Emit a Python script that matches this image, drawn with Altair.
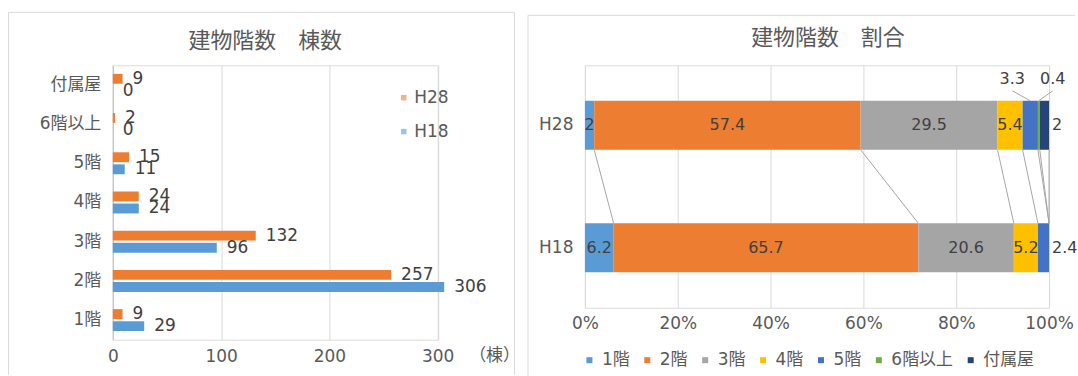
import altair as alt
import pandas as pd

# ---------------- data ----------------
floors = ["1階", "2階", "3階", "4階", "5階", "6階以上", "付属屋"]
years = ["H28", "H18"]
count_h28 = [9, 257, 132, 24, 15, 2, 9]
count_h18 = [29, 306, 96, 24, 11, 0, 0]
pct_h28 = [2.0, 57.4, 29.5, 5.4, 3.3, 0.4, 2.0]
pct_h18 = [6.2, 65.7, 20.6, 5.2, 2.4, 0.0, 0.0]
count_ticks = [0, 100, 200, 300]
pct_ticks = [0, 20, 40, 60, 80, 100]
title_left = "建物階数　棟数"
title_right = "建物階数　割合"

# label placement on the 100% chart (style, not data)
place_h28 = ["in", "in", "in", "in", "above", "above", "right"]
place_h18 = ["in", "in", "in", "in", "right", "none", "none"]
above_dx = {"5階": -18, "6階以上": 14}

year_colors = ["#ED7D31", "#5B9BD5"]
floor_colors = ["#5B9BD5", "#ED7D31", "#A5A5A5", "#FFC000", "#4472C4", "#70AD47", "#264478"]

FONT = "DejaVu Sans, Noto Sans CJK JP"
TXT = "#595959"
LBL = "#404040"
GRID = "#D9D9D9"
FRAME = "#D9D9D9"
FS = 17

one = pd.DataFrame({"k": [0]})

# ---------------- left: counts ----------------
LW, LH = 325.5, 275
cnt = pd.DataFrame({
    "floor": floors * 2,
    "year": ["H28"] * len(floors) + ["H18"] * len(floors),
    "count": count_h28 + count_h18,
})
floor_top_down = list(reversed(floors))

ly = alt.Y("floor:N", sort=floor_top_down,
           scale=alt.Scale(paddingInner=0.44, paddingOuter=0.22),
           axis=alt.Axis(title=None, domain=True, domainColor="#BFBFBF", ticks=False,
                         labelPadding=12, labelFontSize=FS, labelColor=TXT, labelFont=FONT))
lyo = alt.YOffset("year:N", sort=years, scale=alt.Scale(paddingInner=0.18))
lx = alt.X("count:Q", scale=alt.Scale(domain=[0, 300], nice=False),
           axis=alt.Axis(values=count_ticks, grid=True, gridColor=GRID, domain=False, ticks=False,
                         labelFlush=False, labelPadding=9, labelFontSize=FS, labelColor=TXT,
                         labelFont=FONT, title="（棟）", titleX=382, titleY=16,
                         titleAlign="center", titleBaseline="middle", titleFontSize=FS,
                         titleFontWeight="normal", titleColor=TXT, titleFont=FONT))

left_bars = alt.Chart(cnt).mark_bar().encode(
    y=ly, yOffset=lyo, x=lx,
    color=alt.Color("year:N", sort=years,
                    scale=alt.Scale(domain=years, range=year_colors),
                    legend=alt.Legend(title=None, orient="none", legendX=283, legendY=24,
                                      direction="vertical", symbolType="square", symbolSize=30,
                                      symbolOpacity=0.6, labelFontSize=FS, labelColor=TXT,
                                      labelFont=FONT, rowPadding=16, labelOffset=2, padding=0)),
)
left_text = alt.Chart(cnt).mark_text(align="left", baseline="middle", dx=10, fontSize=FS,
                                     font=FONT, color=LBL).encode(
    y=alt.Y("floor:N", sort=floor_top_down), yOffset=lyo, x="count:Q", text="count:Q")

left_title = alt.Chart(one).mark_text(align="center", baseline="middle", fontSize=22,
                                      font=FONT, color=TXT).encode(
    x=alt.value(LW / 2 - 10), y=alt.value(-24), text=alt.value(title_left))

lf_top = alt.Chart(one).mark_rule(color=FRAME).encode(
    x=alt.value(-104.5), x2=alt.value(402.5), y=alt.value(-53))
lf_left = alt.Chart(one).mark_rule(color=FRAME).encode(
    x=alt.value(-104.5), y=alt.value(-53), y2=alt.value(310))
lf_right = alt.Chart(one).mark_rule(color=FRAME).encode(
    x=alt.value(402.5), y=alt.value(-53), y2=alt.value(310))

left = alt.layer(left_bars, left_text, left_title, lf_top, lf_left, lf_right).properties(
    width=LW, height=LH)

# ---------------- right: shares ----------------
RW, RH = 465, 243
R_PI, R_PO = 0.6, 0.29
px_per_pct = RW / 100.0
r_step = RH / (len(years) - R_PI + 2 * R_PO)
bar_top = R_PO * r_step          # top edge of the H28 bar in the y band scale
rows = []
for yr, pcts, places in (("H28", pct_h28, place_h28), ("H18", pct_h18, place_h18)):
    total = sum(pcts)
    cum = 0.0
    for f, p, pl in zip(floors, pcts, places):
        s = p / total * 100.0
        mid = cum + s / 2
        labx = mid + above_dx.get(f, 0) / px_per_pct if pl == "above" else mid
        rows.append(dict(year=yr, floor=f, pct=p, label=f"{p:g}", start=cum, end=cum + s,
                         mid=mid, labx=labx, place=pl))
        cum += s
shares = pd.DataFrame(rows)
ends28 = shares[shares.year == "H28"]["end"].tolist()
ends18 = shares[shares.year == "H18"]["end"].tolist()
series_lines = pd.DataFrame({"floor": floors, "e28": ends28, "e18": ends18,
                             "a": ["H28"] * len(floors), "b": ["H18"] * len(floors)})

ry_scale = alt.Scale(domain=years, paddingInner=R_PI, paddingOuter=R_PO)
ry = alt.Y("year:N", sort=years, scale=ry_scale,
           axis=alt.Axis(title=None, domain=False, ticks=False, labelPadding=12,
                         labelFontSize=FS, labelColor=TXT, labelFont=FONT))
rx = alt.X("start:Q", scale=alt.Scale(domain=[0, 100], nice=False),
           axis=alt.Axis(values=pct_ticks, labelExpr="datum.value + '%'", grid=True,
                         gridColor=GRID, domain=False, ticks=False, labelFlush=False,
                         labelPadding=8, labelFontSize=FS, labelColor=TXT, labelFont=FONT,
                         title=None))

r_lines = alt.Chart(series_lines).mark_rule(color="#A6A6A6", strokeWidth=1).encode(
    x="e28:Q", x2="e18",
    y=alt.Y("a:N", bandPosition=1),
    y2=alt.Y2("b", bandPosition=0),
)
r_bars = alt.Chart(shares).mark_bar().encode(
    y=ry, x=rx, x2="end",
    color=alt.Color("floor:N", sort=floors,
                    scale=alt.Scale(domain=floors, range=floor_colors),
                    legend=alt.Legend(title=None, orient="none", legendX=-4, legendY=287,
                                      direction="horizontal", columns=7, symbolType="square",
                                      symbolSize=36, labelFontSize=FS, labelColor=TXT,
                                      labelFont=FONT, labelOffset=4, columnPadding=9,
                                      gridAlign="none", padding=0)),
)
r_in = alt.Chart(shares).transform_filter("datum.place == 'in'").mark_text(
    align="center", baseline="middle", fontSize=16, font=FONT, color=LBL).encode(
    y=alt.Y("year:N"), x="mid:Q", text="label:N")
r_right = alt.Chart(shares).transform_filter("datum.place == 'right'").mark_text(
    align="left", baseline="middle", dx=3, fontSize=16, font=FONT, color=LBL).encode(
    y=alt.Y("year:N"), x="end:Q", text="label:N")
r_above = alt.Chart(shares).transform_filter("datum.place == 'above'").mark_text(
    align="center", baseline="middle", dy=-46, fontSize=16, font=FONT, color=LBL).encode(
    y=alt.Y("year:N"), x="labx:Q", text="label:N")
r_leader = alt.Chart(shares).transform_filter("datum.place == 'above'").mark_rule(
    color="#A6A6A6", strokeWidth=1).encode(
    x="labx:Q", x2="mid",
    y=alt.value(bar_top - 10),
    y2=alt.value(bar_top),
)
right_title = alt.Chart(one).mark_text(align="center", baseline="middle", fontSize=22,
                                       font=FONT, color=TXT).encode(
    x=alt.value(RW / 2 + 11), y=alt.value(-27), text=alt.value(title_right))

rf_top = alt.Chart(one).mark_rule(color=FRAME).encode(
    x=alt.value(-57), x2=alt.value(491), y=alt.value(-50))
rf_left = alt.Chart(one).mark_rule(color=FRAME).encode(
    x=alt.value(-57), y=alt.value(-50), y2=alt.value(313))

right = alt.layer(r_lines, r_bars, r_in, r_right, r_above, r_leader, right_title,
                  rf_top, rf_left).properties(width=RW, height=RH)

# the unit title of the left chart reaches 5px past its frame, so the gap shrinks to match
chart = alt.hconcat(left, right, spacing=7).resolve_scale(
    color="independent").resolve_legend(color="independent").properties(
    padding={"left": 7, "top": 11, "right": 0, "bottom": 0},
).configure_view(stroke=None).configure(background="white")

chart.save("out.html", embed_options={"renderer": "svg", "actions": False})
